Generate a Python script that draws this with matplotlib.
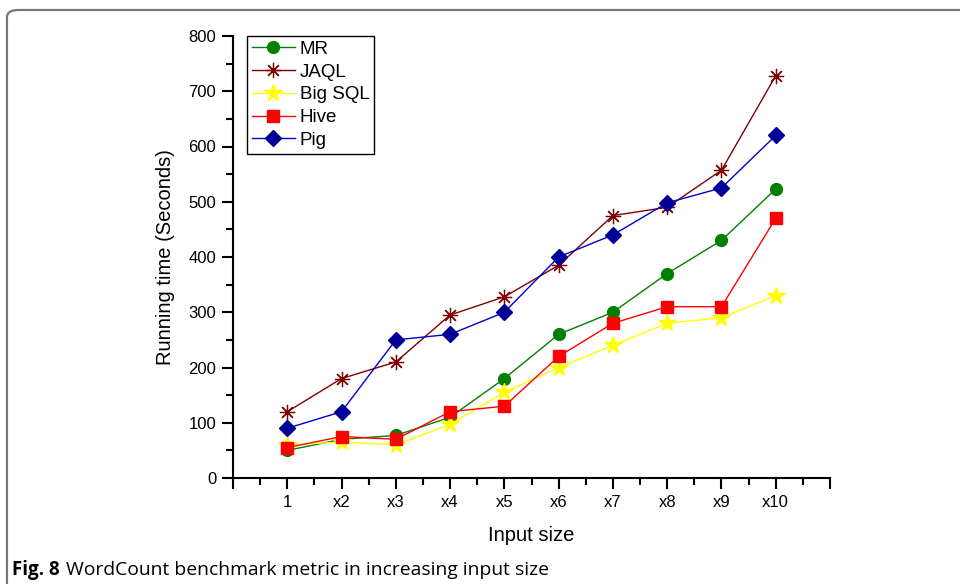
import matplotlib
matplotlib.use("Agg")
import matplotlib.pyplot as plt
from matplotlib.patches import FancyBboxPatch
from matplotlib.ticker import MultipleLocator, FixedLocator

categories = ["1", "x2", "x3", "x4", "x5", "x6", "x7", "x8", "x9", "x10"]
mr = [50, 70, 77, 110, 180, 260, 300, 370, 430, 523]
jaql = [120, 180, 210, 295, 328, 385, 475, 490, 557, 728]
bigsql = [60, 65, 60, 97, 155, 200, 240, 280, 290, 330]
hive = [55, 75, 70, 120, 130, 220, 280, 310, 310, 470]
pig = [90, 120, 250, 260, 300, 400, 440, 498, 525, 620]

plt.rcParams['font.family'] = ['Liberation Sans', 'DejaVu Sans']

fig = plt.figure(figsize=(9.6, 5.84), dpi=100)

# frame border (rounded corner at top-left, running off the figure)
border = FancyBboxPatch((7/960, -0.2), 1.2, 1 - 10/584 + 0.2,
                        boxstyle="round,pad=0,rounding_size=0.012",
                        transform=fig.transFigure, fill=False,
                        edgecolor="#777777", linewidth=1.6, zorder=0)
fig.patches.append(border)

ax = fig.add_axes([233/960, 1 - 478/584, (830 - 233)/960, (478 - 36)/584])
x = list(range(1, len(categories) + 1))

lw = 1.0
ax.plot(x, mr, color="#008000", marker="o", ms=8.5, lw=lw, label="MR", zorder=3)
ax.plot(x, jaql, color="#800000", marker=(8, 2, 0), ms=11, mew=0.9, lw=lw, label="JAQL", zorder=3)
ax.plot(x, bigsql, color="#FFFF00", marker="*", ms=13, lw=lw, label="Big SQL", zorder=3)
ax.plot(x, hive, color="#FF0000", marker="s", ms=8, lw=lw, label="Hive", zorder=3)
ax.plot(x, pig, color="#0000CC", marker="D", ms=8.5, mfc="#000099", mec="#000099", lw=lw, label="Pig", zorder=3)

ax.set_xlim(0, 11)
ax.set_ylim(0, 800)
ax.xaxis.set_major_locator(FixedLocator(range(0, 12)))
ax.set_xticklabels([""] + categories + [""])
ax.xaxis.set_minor_locator(MultipleLocator(0.5))
ax.yaxis.set_major_locator(MultipleLocator(100))
ax.yaxis.set_minor_locator(MultipleLocator(50))

for s in ["top", "right"]:
    ax.spines[s].set_visible(False)
for s in ["left", "bottom"]:
    ax.spines[s].set_linewidth(1.5)
ax.tick_params(which="major", direction="out", length=8, width=1.5, labelsize=12, pad=4)
ax.tick_params(which="minor", direction="out", length=5, width=1.5)

ax.set_xlabel("Input size", fontsize=14.5, labelpad=12)
ax.set_ylabel("Running time (Seconds)", fontsize=14.5, labelpad=10)

leg = ax.legend(loc="upper left", bbox_to_anchor=(14/597, 1.0), fontsize=13.5,
                frameon=True, fancybox=False, edgecolor="black", framealpha=1,
                handlelength=2.3, handletextpad=0.25, borderpad=0.25, labelspacing=0.3,
                borderaxespad=0.0)
leg.get_frame().set_linewidth(1.0)

cap_y = 1 - 570/584
fig.text(12/960, cap_y, "Fig. 8", fontsize=13.5, va="center", fontweight="bold",
         family=["Open Sans", "DejaVu Sans"])
fig.text(66/960, cap_y, "WordCount benchmark metric in increasing input size",
         fontsize=13.9, va="center", family=["Open Sans", "DejaVu Sans"])

fig.savefig("out.png", dpi=100)
